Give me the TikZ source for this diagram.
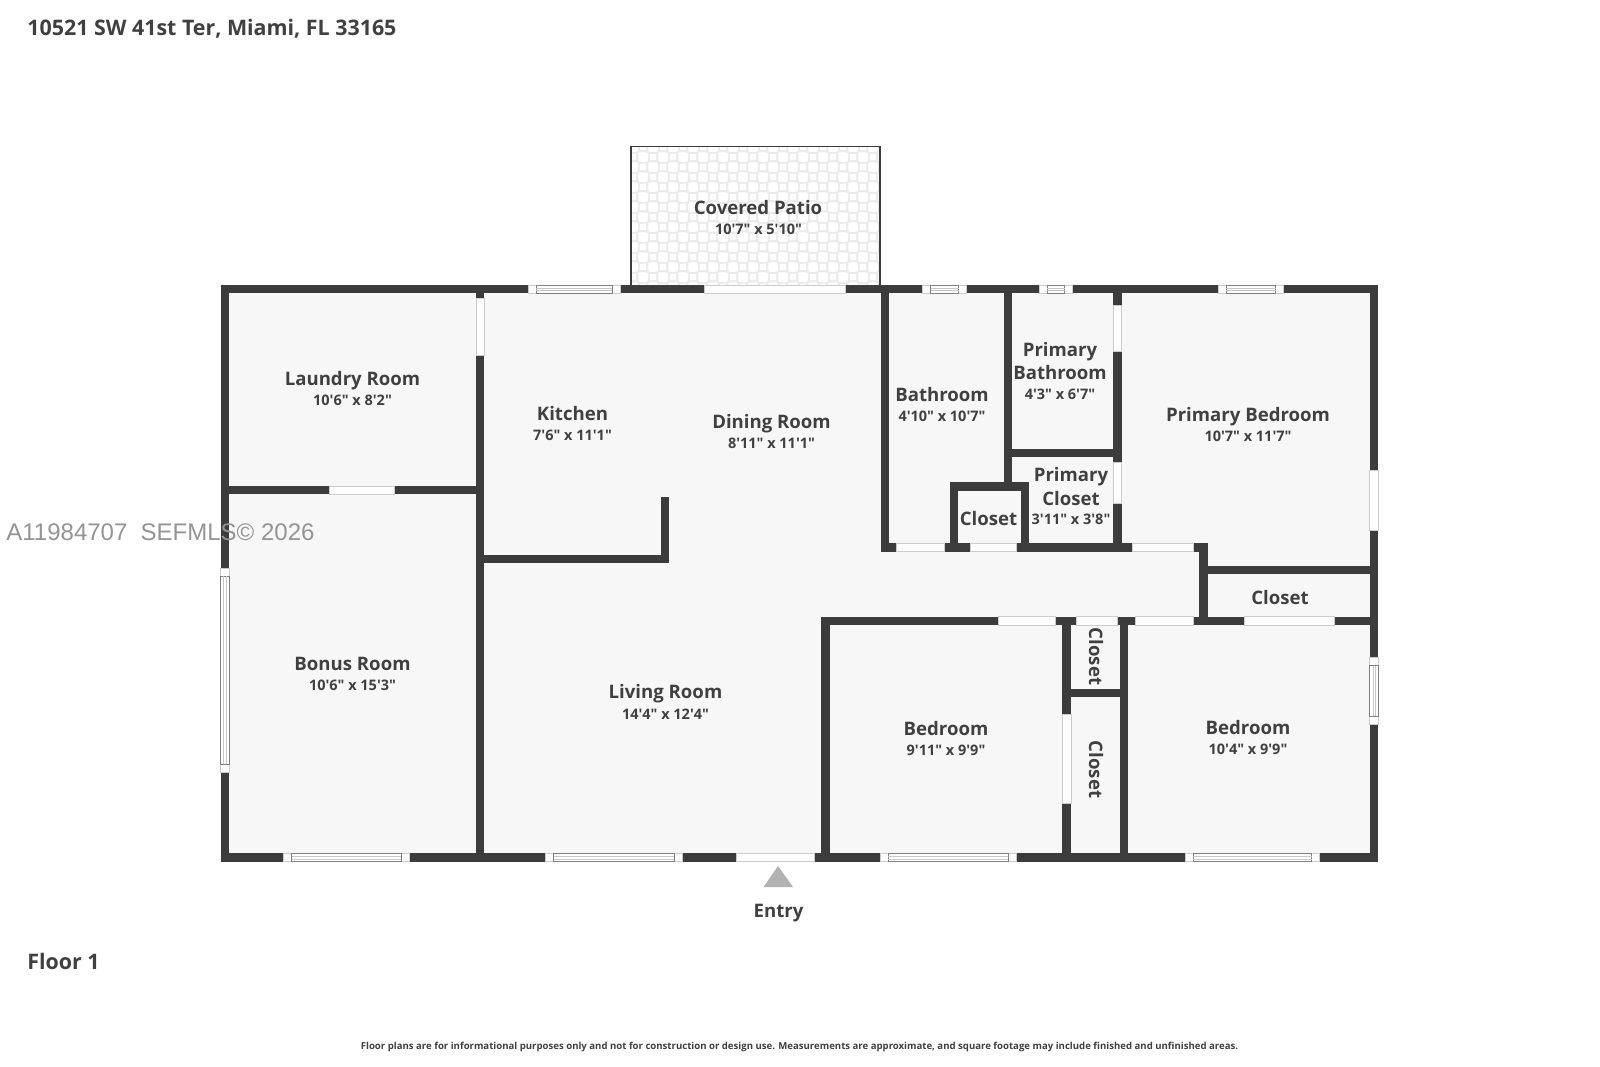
\documentclass[tikz,border=0pt]{standalone}
\usepackage{fontspec}
\setmainfont{Open Sans}[Ligatures=TeXOff]
\setsansfont{Liberation Sans}
\definecolor{wallc}{HTML}{3C3C3C}
\definecolor{floorc}{HTML}{F7F7F7}
\definecolor{textc}{HTML}{404040}
\definecolor{framec}{HTML}{CCCCCC}
\definecolor{tilec}{HTML}{EBEBEB}
\tikzset{
  wall/.style={fill=wallc},
  opening/.style={fill=white,draw=framec,line width=0.35pt},
  winframe/.style={draw=black!50,line width=0.5pt},
  winline/.style={draw=black!22,line width=0.3pt},
  roomname/.style={font=\fontsize{9.3}{11}\selectfont\bfseries,text=textc,inner sep=0pt,text height=7pt,text depth=0.2pt,yshift=-0.2pt},
  roomsize/.style={font=\fontsize{7.25}{9}\selectfont\bfseries,text=textc,inner sep=0pt,yshift=-0.4pt},
  pagetext/.style={font=\fontsize{10.7}{12}\selectfont\bfseries,text=textc,inner sep=0pt,anchor=west,yshift=-0.5pt},
}
\begin{document}
\begin{tikzpicture}[x=0.5pt,y=-0.5pt]
\useasboundingbox (0,0) rectangle (1600,1066);
\fill[white] (0,0) rectangle (1600,1066);
% patio
\begin{scope}
\clip (631,146) rectangle (880,286);
\foreach \i in {0,...,25} {
\foreach \j in {0,...,14} {
\pgfmathsetmacro{\side}{mod(\i+\j,2)==0 ? 5.8 : 4.2}
\draw[tilec,line width=0.8pt,rounded corners=0.6pt] (633+10*\i-\side,147+10*\j-\side) rectangle (633+10*\i+\side,147+10*\j+\side);
}
}
\end{scope}
\draw[wallc,line width=0.95pt] (631,286) -- (631,146.5) -- (880,146.5) -- (880,286);
% floor
\fill[floorc] (221,285) rectangle (1378,862);
% walls
\foreach \xa/\ya/\xb/\yb in {
220.7/285/1378.3/293.4, 220.7/853.4/1378.3/861.8,
220.7/285/229/861.8, 1369.8/285/1378.3/861.8,
476/285/484.3/861.8, 220.7/486/484.3/494.3,
476/555/669/563.3, 661/497/669/563.3,
880.7/285/889.3/551.7, 880.7/543/1207.8/551.7,
1003.6/285/1012.2/490, 1003.6/449/1121.7/457.3,
1113/285/1121.7/551.7, 949.5/482.3/1028.7/490.7,
949.5/482.3/958.1/551.7, 1020.5/482.3/1028.7/551.7,
1199/543/1207.8/625, 1199/565.7/1378/574,
821/616.7/1378/625, 821/616.7/829.9/861.8,
1062/616.7/1071/861.8, 1119.6/616.7/1128/861.8,
1062/689/1128/697.3} {
\fill[wall] (\xa,\ya) rectangle (\xb,\yb);
}
% doors
\foreach \xa/\ya/\xb/\yb in {
704.3/285/845.3/293.4, 476/298.3/484.3/355, 329.3/486/394/494.3,
1113/305.7/1121.7/351, 1113/462.7/1121.7/503.3, 1369.8/470.7/1378.3/530.7,
896.2/543/944.4/551.7, 970.2/543/1016.7/551.7, 1132/543/1193/551.7,
997.9/616.7/1055.3/625, 1076.3/616.7/1116.9/625, 1134.9/616.7/1193/625,
1244.7/616.7/1334.6/625, 1062/714.3/1071/803.3, 736.4/853.4/814.5/861.8} {
\draw[opening] (\xa,\ya) rectangle (\xb,\yb);
}
% windows along x
\foreach \xa/\xb/\ya in {
528/620/285, 922.7/966.7/285, 1039/1072.8/285, 1218/1283.6/285,
283.6/409/853.4, 545.7/682.4/853.4, 880.4/1016.2/853.4, 1185.4/1319.7/853.4} {
\draw[opening] (\xa,\ya) rectangle (\xb,\ya+8.4);
\draw[winframe] (\xa+8,\ya) rectangle (\xb-8,\ya+8.4);
\draw[winline] (\xa+8,\ya+3) -- (\xb-8,\ya+3);
\draw[winline] (\xa+8,\ya+5.4) -- (\xb-8,\ya+5.4);
}
% windows along y
\foreach \ya/\yb/\xa in {568/772/220.7, 657.7/724.3/1369.8} {
\draw[opening] (\xa,\ya) rectangle (\xa+8.4,\yb);
\draw[winframe] (\xa,\ya+8) rectangle (\xa+8.4,\yb-8);
\draw[winline] (\xa+3,\ya+8) -- (\xa+3,\yb-8);
\draw[winline] (\xa+5.4,\ya+8) -- (\xa+5.4,\yb-8);
}
% entry
\fill[black!30] (778,866) -- (763.5,887) -- (793,887) -- cycle;
\node[roomname] (entry) at (778.5,910) {Entry};
% rooms
\node[roomname] (patio) at (758,207) {Covered Patio};
\node[roomsize] (patiosize) at (758.5,228.5) {10'7" x 5'10"};
\node[roomname] (laundry) at (352.5,378.5) {Laundry Room};
\node[roomsize] (laundrysize) at (352.5,400) {10'6" x 8'2"};
\node[roomname] (kitchen) at (572.5,413) {Kitchen};
\node[roomsize] (kitchensize) at (572.5,434.5) {7'6" x 11'1"};
\node[roomname] (dining) at (771.5,421) {Dining Room};
\node[roomsize] (diningsize) at (771.5,442.5) {8'11" x 11'1"};
\node[roomname] (bath) at (942,394.5) {Bathroom};
\node[roomsize] (bathsize) at (942,416) {4'10" x 10'7"};
\node[roomname] (pbatha) at (1060,349) {Primary};
\node[roomname] (pbathb) at (1060,372.5) {Bathroom};
\node[roomsize] (pbathsize) at (1060,394) {4'3" x 6'7"};
\node[roomname] (pbed) at (1248,414) {Primary Bedroom};
\node[roomsize] (pbedsize) at (1248,435.5) {10'7" x 11'7"};
\node[roomname] (pclosa) at (1071,474.5) {Primary};
\node[roomname] (pclosb) at (1071,498) {Closet};
\node[roomsize] (pclossize) at (1071,519) {3'11" x 3'8"};
\node[roomname] (closa) at (988.5,518) {Closet};
\node[roomname] (closb) at (1280,597.5) {Closet};
\node[roomname] (bonus) at (352.5,663) {Bonus Room};
\node[roomsize] (bonussize) at (352.5,684.5) {10'6" x 15'3"};
\node[roomname] (living) at (665.5,691.5) {Living Room};
\node[roomsize] (livingsize) at (665.5,713) {14'4" x 12'4"};
\node[roomname] (beda) at (946,728) {Bedroom};
\node[roomsize] (bedasize) at (946,749.5) {9'11" x 9'9"};
\node[roomname] (bedb) at (1248,727) {Bedroom};
\node[roomsize] (bedbsize) at (1248,748.5) {10'4" x 9'9"};
\node[roomname,rotate=-90] (closc) at (1096,656) {Closet};
\node[roomname,rotate=-90] (closd) at (1096,769) {Closet};
% page text
\node[pagetext] (address) at (27,27.5) {10521 SW 41st Ter, Miami, FL 33165};
\node[pagetext] (floorname) at (27,960) {Floor 1};
\node[font=\fontsize{4.8}{5}\selectfont\bfseries,text=textc,inner sep=0pt] (note) at (799.5,1046.5) {Floor plans are for informational purposes only and not for construction or design use. Measurements are approximate, and square footage may include finished and unfinished areas.};
\node[font=\fontsize{12}{13}\selectfont\sffamily,text=black!42,inner sep=0pt,anchor=west] (mark) at (6,532.5) {A11984707\ \ SEFMLS© 2026};
\end{tikzpicture}
\end{document}
